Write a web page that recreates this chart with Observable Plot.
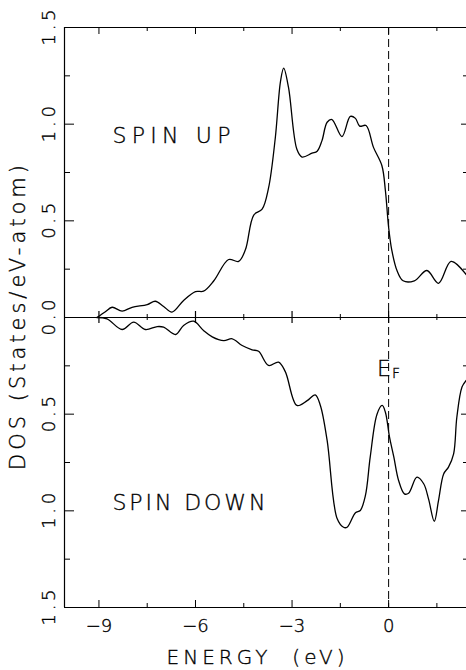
<!DOCTYPE html>
<html><head><meta charset="utf-8">
<script src="https://cdn.jsdelivr.net/npm/d3@7"></script>
<script src="https://cdn.jsdelivr.net/npm/@observablehq/plot@0.6"></script>
<style>
html,body{margin:0;padding:0;background:#fff;}
svg text{font-family:"DejaVu Sans ExtraLight","DejaVu Sans Light","DejaVu Sans",sans-serif;font-weight:200;stroke:#000;stroke-width:0.35px;}
</style></head><body><div id="chart"></div>
<script>
// Spin-up DOS (states/eV-atom) vs energy (eV)
const energyUp = [-9.06,-8.80,-8.59,-8.28,-7.97,-7.50,-7.25,-6.99,-6.73,-6.37,-6.00,-5.75,-5.43,-4.97,-4.66,-4.45,-4.19,-3.93,-3.73,-3.52,-3.36,-3.26,-3.11,-2.85,-2.69,-2.38,-2.22,-2.07,-1.91,-1.76,-1.45,-1.19,-1.03,-0.90,-0.70,-0.47,-0.21,-0.10,0.00,0.10,0.26,0.45,0.80,1.19,1.55,1.94,2.41];
const dosUp = [0,0.03,0.053,0.033,0.053,0.067,0.084,0.057,0.028,0.088,0.134,0.136,0.19,0.30,0.29,0.35,0.53,0.56,0.67,0.93,1.22,1.29,1.19,0.87,0.83,0.85,0.86,0.915,1.01,1.024,0.936,1.04,1.03,0.99,0.993,0.88,0.786,0.657,0.467,0.347,0.243,0.19,0.19,0.243,0.177,0.29,0.222];
// Spin-down DOS (plotted downward)
const energyDown = [-9.06,-8.75,-8.28,-7.92,-7.56,-7.19,-6.99,-6.62,-6.37,-6.06,-5.75,-5.48,-5.12,-4.86,-4.55,-4.24,-4.04,-3.73,-3.42,-3.21,-2.85,-2.53,-2.28,-2.12,-1.91,-1.60,-1.40,-1.29,-1.03,-0.88,-0.72,-0.57,-0.36,-0.20,-0.10,0.03,0.16,0.31,0.49,0.62,0.88,1.09,1.24,1.42,1.55,1.71,1.86,2.02,2.12,2.28,2.41];
const dosDown = [0,-0.007,-0.062,-0.024,-0.062,-0.047,-0.05,-0.088,-0.041,-0.019,-0.067,-0.10,-0.12,-0.11,-0.145,-0.167,-0.175,-0.248,-0.231,-0.28,-0.455,-0.43,-0.40,-0.455,-0.636,-1.04,-1.085,-1.085,-1.01,-0.998,-0.92,-0.72,-0.50,-0.455,-0.49,-0.62,-0.72,-0.843,-0.912,-0.909,-0.826,-0.86,-0.938,-1.054,-0.947,-0.809,-0.774,-0.705,-0.516,-0.36,-0.326];

const xMajorTicks = [-9,-6,-3,0];
const xMinorTicks = [-7.5,-4.5,-1.5,1.5];
const yMajorTicks = [-1.5,-1,-0.5,0,0.5,1,1.5];
const yMinorTicks = [-1.25,-0.75,-0.25,0.25,0.75,1.25];
const xDomain = [-10.07, 2.42];
const yDomain = [-1.5, 1.5];
const fermiEnergy = [0];

const panelLabels = ["SPIN UP","SPIN DOWN"];
const panelLabelX = [-8.58,-8.58];
const panelLabelY = [0.94,-0.96];
const fermiLabel = ["E"];
const fermiSub = ["F"];
const fermiLabelX = -0.36;
const fermiLabelY = -0.266;
const xTitle = "ENERGY\u00a0\u00a0(eV)";
const yTitle = "DOS\u00a0(States/eV-atom)";

const up = energyUp.map((e,i)=>({energy:e, dos:dosUp[i]}));
const down = energyDown.map((e,i)=>({energy:e, dos:dosDown[i]}));
const labels = panelLabels.map((t,i)=>({text:t, x:panelLabelX[i], y:panelLabelY[i]}));
const fmtX = d => (d < 0 ? "\u2212" : "") + Math.abs(d);
const fmtY = d => Math.abs(d).toFixed(1);

const sw = 1.2;
const chart = Plot.plot({
  width: 466, height: 670,
  marginLeft: 64, marginRight: 0, marginTop: 27, marginBottom: 63,
  style: {background: "#fff", color: "#000", overflow: "visible"},
  x: {domain: xDomain, axis: null},
  y: {domain: yDomain, axis: null},
  marks: [
    // frame lines
    Plot.ruleY([yDomain[0], 0, yDomain[1]], {stroke: "#000", strokeWidth: sw}),
    Plot.ruleX([xDomain[0]], {stroke: "#000", strokeWidth: sw}),
    // x ticks: top (inward), bottom (inward), zero line (crossing)
    Plot.ruleX(xMajorTicks, {x: d=>d, y1: yDomain[1], y2: yDomain[1], insetBottom: -7, stroke: "#000", strokeWidth: 1}),
    Plot.ruleX(xMinorTicks, {x: d=>d, y1: yDomain[1], y2: yDomain[1], insetBottom: -4, stroke: "#000", strokeWidth: 1}),
    Plot.ruleX(xMajorTicks, {x: d=>d, y1: yDomain[0], y2: yDomain[0], insetTop: -7, stroke: "#000", strokeWidth: 1}),
    Plot.ruleX(xMinorTicks, {x: d=>d, y1: yDomain[0], y2: yDomain[0], insetTop: -4, stroke: "#000", strokeWidth: 1}),
    Plot.ruleX(xMajorTicks, {x: d=>d, y1: 0, y2: 0, insetTop: -6, insetBottom: -6, stroke: "#000", strokeWidth: 1.2}),
    Plot.ruleX(xMinorTicks, {x: d=>d, y1: 0, y2: 0, insetTop: -3, insetBottom: -3, stroke: "#000", strokeWidth: 1}),
    // y ticks: left (inward) and right (inward)
    Plot.ruleY(yMajorTicks, {y: d=>d, x1: xDomain[0], x2: xDomain[0], insetRight: -10, stroke: "#000", strokeWidth: 1}),
    Plot.ruleY(yMinorTicks, {y: d=>d, x1: xDomain[0], x2: xDomain[0], insetRight: -6, stroke: "#000", strokeWidth: 1}),
    Plot.ruleY(yMajorTicks, {y: d=>d, x1: xDomain[1], x2: xDomain[1], insetLeft: -5, stroke: "#000", strokeWidth: 1}),
    Plot.ruleY(yMinorTicks, {y: d=>d, x1: xDomain[1], x2: xDomain[1], insetLeft: -3, stroke: "#000", strokeWidth: 1}),
    // Fermi level
    Plot.ruleX(fermiEnergy, {x: d=>d, stroke: "#000", strokeWidth: 1, strokeDasharray: "8,4"}),
    // curves
    Plot.line(up, {x: "energy", y: "dos", curve: "catmull-rom", stroke: "#000", strokeWidth: 1.3}),
    Plot.line(down, {x: "energy", y: "dos", curve: "catmull-rom", stroke: "#000", strokeWidth: 1.3}),
    // tick labels
    Plot.text(xMajorTicks, {x: d=>d, frameAnchor: "bottom", dy: 19, text: fmtX, fontSize: 18, lineAnchor: "middle", fill: "#000"}),
    Plot.text(yMajorTicks, {y: d=>d, frameAnchor: "left", dx: -15, rotate: -90, text: fmtY, fontSize: 18, lineAnchor: "middle", textAnchor: "middle", fill: "#000"}),
    // axis titles
    Plot.text([xTitle], {frameAnchor: "bottom", dx: -10, dy: 50, fontSize: 20, lineAnchor: "middle", fill: "#000"}),
    Plot.text([yTitle], {frameAnchor: "left", dx: -46, rotate: -90, fontSize: 21, lineAnchor: "middle", textAnchor: "middle", fill: "#000"}),
    // annotations
    Plot.text(labels, {x: "x", y: "y", text: "text", textAnchor: "start", lineAnchor: "middle", fontSize: 22, fill: "#000"}),
    Plot.text(fermiLabel, {x: fermiLabelX, y: fermiLabelY, text: d=>d, textAnchor: "start", lineAnchor: "middle", fontSize: 22, fill: "#000"}),
    Plot.text(fermiSub, {x: fermiLabelX, y: fermiLabelY, text: d=>d, dx: 15, dy: 5, textAnchor: "start", lineAnchor: "middle", fontSize: 14, fill: "#000"})
  ]
});
document.getElementById("chart").appendChild(chart);

// stretch letter spacing like the plotter lettering
const lengths = {"SPIN UP": 118, "SPIN DOWN": 153};
lengths[xTitle] = 178;
lengths[yTitle] = 305;
d3.select(chart).selectAll("text").each(function(){
  const t = this.textContent;
  if (lengths[t]) { this.setAttribute("textLength", lengths[t]); this.setAttribute("lengthAdjust", "spacing"); }
  else if (/^\d\.\d$/.test(t)) { this.setAttribute("textLength", 36); this.setAttribute("lengthAdjust", "spacing"); }
});
</script></body></html>
